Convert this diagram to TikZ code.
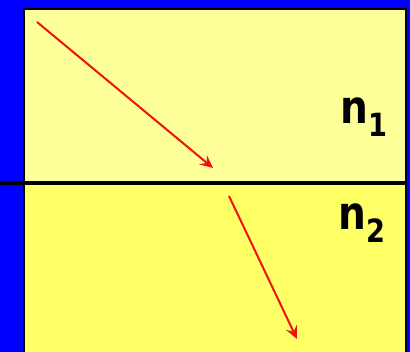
\documentclass[tikz,border=0pt]{standalone}
\usepackage{fontspec}
\setmainfont{DejaVu Sans}
\usetikzlibrary{arrows.meta}
\definecolor{bgblue}{HTML}{0000FF}
\definecolor{paleyellow}{HTML}{FFFF99}
\definecolor{deepyellow}{HTML}{FFFF66}
\definecolor{rayred}{HTML}{F01010}
\tikzset{
  ray/.style={draw=rayred, line width=2pt, -{Stealth[length=13pt,width=12pt,inset=5pt]}},
  medium/.style={font=\fontsize{46}{46}\bfseries\selectfont, inner sep=0pt, xscale=0.85}
}
\newcommand{\idx}[1]{\raisebox{-0.28em}{\fontsize{32}{32}\bfseries\selectfont #1}}
\begin{document}
\begin{tikzpicture}[x=1pt,y=-1pt]
\fill [bgblue] (0,0) rectangle (410,352);
\useasboundingbox (0,0) rectangle (410,352);
% upper medium
\filldraw [fill=paleyellow, draw=black, line width=2.5pt] (24,9) rectangle (406,183);
% lower medium
\fill [deepyellow] (24,183) rectangle (406,352);
\draw [black, line width=2.5pt] (24,183) -- (24,353);
\draw [black, line width=2.5pt] (406,183) -- (406,353);
% interface
\draw [black, line width=4pt] (0,183) -- (407.25,183);
\node [medium] (n1) at (364,117) {n\idx{1}};
\node [medium] (n2) at (362,223) {n\idx{2}};
% rays
\coordinate (inA) at (37,22);
\coordinate (inB) at (213,168);
\coordinate (outA) at (229,196);
\coordinate (outB) at (297,339);
\draw [ray] (inA) -- (inB);
\draw [ray] (outA) -- (outB);
\end{tikzpicture}
\end{document}
